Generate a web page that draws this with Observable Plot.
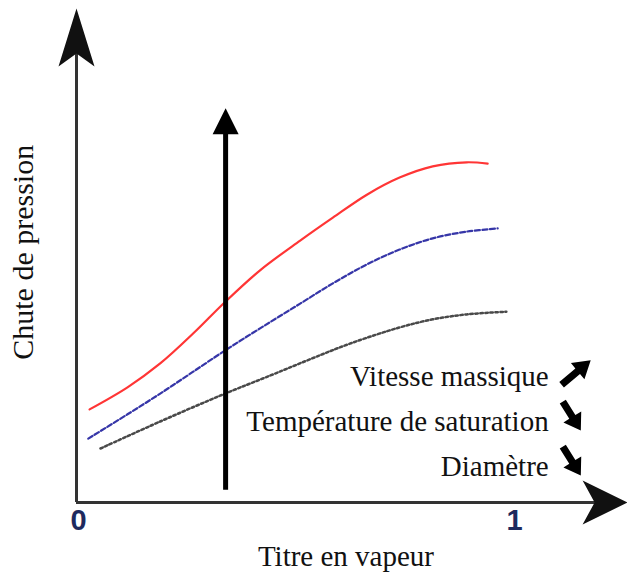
<!DOCTYPE html>
<html><head><meta charset="utf-8">
<script src="https://cdn.jsdelivr.net/npm/d3@7"></script>
<script src="https://cdn.jsdelivr.net/npm/@observablehq/plot@0.6"></script>
<style>html,body{margin:0;padding:0;background:#fff;} svg{display:block}</style>
</head><body><div id="chart"></div>
<script>
// ---- data ----
const xTickValues = [0, 1];
const xTickLabels = ["0", "1"];
const xTitle = "Titre en vapeur";
const yTitle = "Chute de pression";

const redX  = [0.030, 0.117, 0.192, 0.268, 0.339, 0.421, 0.513, 0.588, 0.666, 0.741, 0.817, 0.895, 0.943];
const redY  = [0.207, 0.256, 0.309, 0.376, 0.444, 0.516, 0.582, 0.633, 0.684, 0.722, 0.747, 0.756, 0.753];
const blueX = [0.027, 0.117, 0.192, 0.265, 0.341, 0.421, 0.513, 0.588, 0.666, 0.741, 0.817, 0.895, 0.966];
const blueY = [0.142, 0.196, 0.242, 0.289, 0.338, 0.387, 0.442, 0.487, 0.529, 0.562, 0.587, 0.602, 0.609];
const grayX = [0.055, 0.192, 0.336, 0.444, 0.535, 0.627, 0.741, 0.817, 0.895, 0.986];
const grayY = [0.120, 0.180, 0.240, 0.282, 0.318, 0.353, 0.389, 0.407, 0.418, 0.424];

const factorLabels = ["Vitesse massique", "Température de saturation", "Diamètre"];
const factorTrends = [1, -1, -1]; // 1 = increases, -1 = decreases

// ---- layout ----
const increaseArrowX = 0.342, increaseArrowFrom = 0.027, increaseArrowTip = 0.876;
const yAxisTip = 1.098, xAxisTip = 1.264, xAxisLineEnd = 1.195;
const labelX = 1.083, labelTop = 0.28, labelStep = 0.1;
const trendArrowX = 1.146, trendArrowTop = 0.289;

const toPts = (xs, ys) => xs.map((x, i) => ({x, y: ys[i]}));
const red = toPts(redX, redY), blue = toPts(blueX, blueY), gray = toPts(grayX, grayY);

const headShape = (w, notch) => ({
  draw(ctx, l) { ctx.moveTo(0, -l); ctx.lineTo(w, 0); ctx.lineTo(0, -notch); ctx.lineTo(-w, 0); ctx.closePath(); }
});
const fullArrow = (s, hl, w) => ({
  draw(ctx, l) {
    const b = -(l - hl);
    ctx.moveTo(-s, 0); ctx.lineTo(-s, b); ctx.lineTo(-w, b); ctx.lineTo(0, -l);
    ctx.lineTo(w, b); ctx.lineTo(s, b); ctx.lineTo(s, 0); ctx.closePath();
  }
});

const serif = "Liberation Serif, Times New Roman, serif";
const rows = factorLabels.map((t, i) => ({t, trend: factorTrends[i], i}));
const upRows = rows.filter(d => d.trend > 0), downRows = rows.filter(d => d.trend < 0);

const chart = Plot.plot({
  width: 627, height: 572, margin: 0,
  x: {domain: [0, 1], range: [76, 512], axis: null},
  y: {domain: [0, 1], range: [502, 52], axis: null},
  style: {background: "white", overflow: "visible"},
  marks: [
    // axes
    Plot.ruleX([0], {y1: 0, y2: 1, stroke: "#333", strokeWidth: 3}),
    Plot.ruleY([0], {x1: 0, x2: xAxisLineEnd, stroke: "#333", strokeWidth: 3}),
    Plot.vector([0], {x: 0, y: yAxisTip, length: 58, rotate: 0, anchor: "end", shape: headShape(18, 13), fill: "#111", stroke: "none"}),
    Plot.vector([0], {x: xAxisTip, y: 0, length: 45, rotate: 90, anchor: "end", shape: headShape(22, 12), fill: "#111", stroke: "none"}),
    // curves
    Plot.line(gray, {x: "x", y: "y", curve: "catmull-rom", stroke: "#4a4a4a", strokeWidth: 2.5, strokeDasharray: "2.5,2.5"}),
    Plot.line(blue, {x: "x", y: "y", curve: "catmull-rom", stroke: "#3636a8", strokeWidth: 2.2, strokeDasharray: "5,2.5"}),
    Plot.line(red, {x: "x", y: "y", curve: "catmull-rom", stroke: "#ff3535", strokeWidth: 2.2}),
    // big increasing arrow
    Plot.ruleX([increaseArrowX], {y1: increaseArrowFrom, y2: increaseArrowTip - 0.05, stroke: "#000", strokeWidth: 5}),
    Plot.vector([0], {x: increaseArrowX, y: increaseArrowTip, length: 26, rotate: 0, anchor: "end", shape: headShape(13, 0), fill: "#000", stroke: "none"}),
    // tick labels
    Plot.text(xTickValues, {x: d => d, y: 0, text: (d, i) => xTickLabels[i], lineAnchor: "top", dy: 7, dx: 2,
      fontSize: 29, fontWeight: "bold", fontFamily: "Liberation Sans, Arial, sans-serif", fill: "#1e2a5e"}),
    // titles
    Plot.text([xTitle], {x: 0.618, y: 0, dy: 54, text: d => d, fontSize: 29, fontFamily: serif, fill: "#111"}),
    Plot.text([yTitle], {x: -0.122, y: 0.556, rotate: -90, text: d => d, fontSize: 30, fontFamily: serif, fill: "#111"}),
    // factor labels with trend arrows
    Plot.text(rows, {x: labelX, y: d => labelTop - labelStep * d.i, text: "t", textAnchor: "end", fontSize: 29, fontFamily: serif, fill: "#111"}),
    Plot.vector(upRows, {x: trendArrowX, y: d => trendArrowTop - labelStep * d.i,
      length: 38, rotate: 50, anchor: "middle", shape: fullArrow(3.6, 17, 10.5), fill: "#000", stroke: "none"}),
    Plot.vector(downRows, {x: trendArrowX - 0.01, y: d => trendArrowTop - labelStep * d.i + 0.003,
      length: 34, rotate: 148, anchor: "middle", shape: fullArrow(3.6, 16, 10.5), fill: "#000", stroke: "none"})
  ]
});
document.getElementById("chart").appendChild(chart);
</script>
</body></html>
